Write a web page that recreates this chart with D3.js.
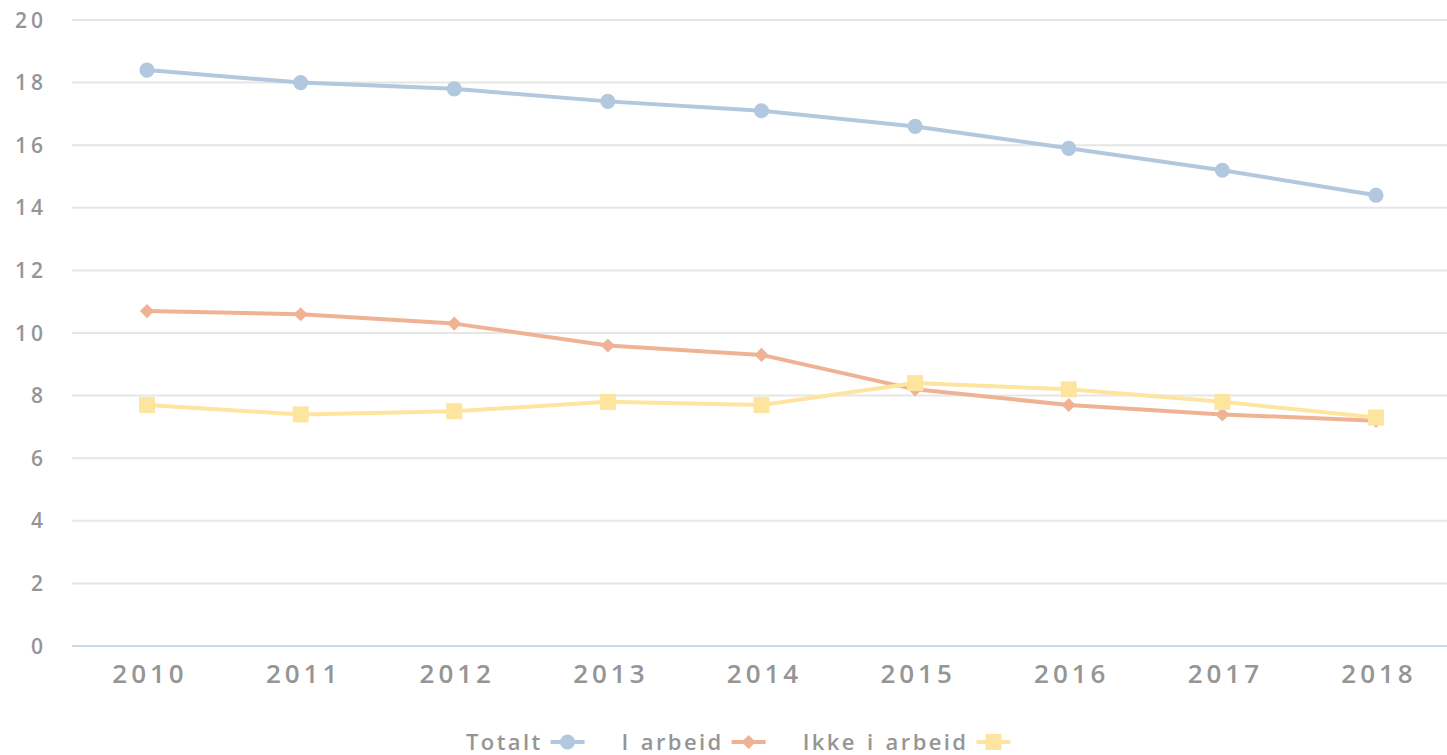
<!DOCTYPE html>
<html>
<head>
<meta charset="utf-8">
<script src="https://cdn.jsdelivr.net/npm/d3@7"></script>
<style>
  body { margin: 0; background: #fff; }
  text { font-family: "Open Sans", "DejaVu Sans", sans-serif; fill: #959595; font-weight: 600; }
</style>
</head>
<body>
<div id="chart"></div>
<script>
// chart data
var years = ["2010", "2011", "2012", "2013", "2014", "2015", "2016", "2017", "2018"];
var totalt = [18.4, 18.0, 17.8, 17.4, 17.1, 16.6, 15.9, 15.2, 14.4];
var iArbeid = [10.7, 10.6, 10.3, 9.6, 9.3, 8.2, 7.7, 7.4, 7.2];
var ikkeIArbeid = [7.7, 7.4, 7.5, 7.8, 7.7, 8.4, 8.2, 7.8, 7.3];
var yTicks = [0, 2, 4, 6, 8, 10, 12, 14, 16, 18, 20];

var diamond = {
  draw: function(ctx, size) {
    var r = Math.sqrt(size / 2);
    ctx.moveTo(0, -r); ctx.lineTo(r, 0); ctx.lineTo(0, r); ctx.lineTo(-r, 0); ctx.closePath();
  }
};

var seriesList = [
  {name: "Totalt", values: totalt, color: "#b1c8de", symbol: d3.symbolCircle, size: 180},
  {name: "I arbeid", values: iArbeid, color: "#efb294", symbol: diamond, size: 100},
  {name: "Ikke i arbeid", values: ikkeIArbeid, color: "#fde59f", symbol: d3.symbolSquare, size: 256}
];

var W = 1447, H = 755;
var margin = {top: 20, right: 0, bottom: 109, left: 72};
var width = W - margin.left - margin.right,
    height = H - margin.top - margin.bottom;

var svg = d3.select("#chart").append("svg")
    .attr("width", W)
    .attr("height", H);

var g = svg.append("g")
    .attr("transform", "translate(" + margin.left + "," + margin.top + ")");

var x = d3.scalePoint()
    .domain(years)
    .range([75, 1304]);

var y = d3.scaleLinear()
    .domain([0, 20])
    .range([height, 0]);

// grid lines
g.selectAll(".grid")
    .data(yTicks.filter(function(d) { return d > 0; }))
    .enter().append("line")
    .attr("x1", 0).attr("x2", width)
    .attr("y1", function(d) { return y(d); })
    .attr("y2", function(d) { return y(d); })
    .attr("stroke", "#e6e6e6")
    .attr("stroke-width", 2);

// x axis line
g.append("line")
    .attr("x1", 0).attr("x2", width)
    .attr("y1", y(0)).attr("y2", y(0))
    .attr("stroke", "#ccd6eb")
    .attr("stroke-width", 2);

// y axis labels
g.selectAll(".ylab")
    .data(yTicks)
    .enter().append("text")
    .attr("x", -25)
    .attr("y", function(d) { return y(d); })
    .attr("dy", "0.36em")
    .attr("text-anchor", "end")
    .style("font-size", "21px")
    .style("letter-spacing", "4px")
    .text(function(d) { return d; });

// x axis labels
g.selectAll(".xlab")
    .data(years)
    .enter().append("text")
    .attr("x", function(d) { return x(d) + 3; })
    .attr("y", y(0) + 37)
    .attr("text-anchor", "middle")
    .style("font-size", "26px")
    .style("letter-spacing", "4px")
    .text(function(d) { return d; });

var line = d3.line()
    .x(function(d, i) { return x(years[i]); })
    .y(function(d) { return y(d); });

seriesList.forEach(function(s) {
  g.append("path")
      .datum(s.values)
      .attr("fill", "none")
      .attr("stroke", s.color)
      .attr("stroke-width", 4)
      .attr("stroke-linejoin", "round")
      .attr("d", line);

  g.selectAll(null)
      .data(s.values)
      .enter().append("path")
      .attr("transform", function(d, i) { return "translate(" + x(years[i]) + "," + y(d) + ")"; })
      .attr("d", d3.symbol().type(s.symbol).size(s.size))
      .attr("fill", s.color);
});

// legend
var legend = svg.append("g").attr("transform", "translate(0," + 742 + ")");
var lx = 466;
seriesList.forEach(function(s) {
  var t = legend.append("text")
      .attr("x", lx)
      .attr("y", 0)
      .attr("dy", "0.36em")
      .style("font-size", "22px")
      .style("letter-spacing", "2.4px")
      .style("word-spacing", "2px")
      .text(s.name);
  var tw = t.node().getComputedTextLength();
  var sx = lx + tw + 8;
  legend.append("line")
      .attr("x1", sx).attr("x2", sx + 34)
      .attr("y1", 0).attr("y2", 0)
      .attr("stroke", s.color)
      .attr("stroke-width", 4);
  legend.append("path")
      .attr("transform", "translate(" + (sx + 17) + ",0)")
      .attr("d", d3.symbol().type(s.symbol).size(s.size))
      .attr("fill", s.color);
  lx = sx + 34 + 37;
});
</script>
</body>
</html>
